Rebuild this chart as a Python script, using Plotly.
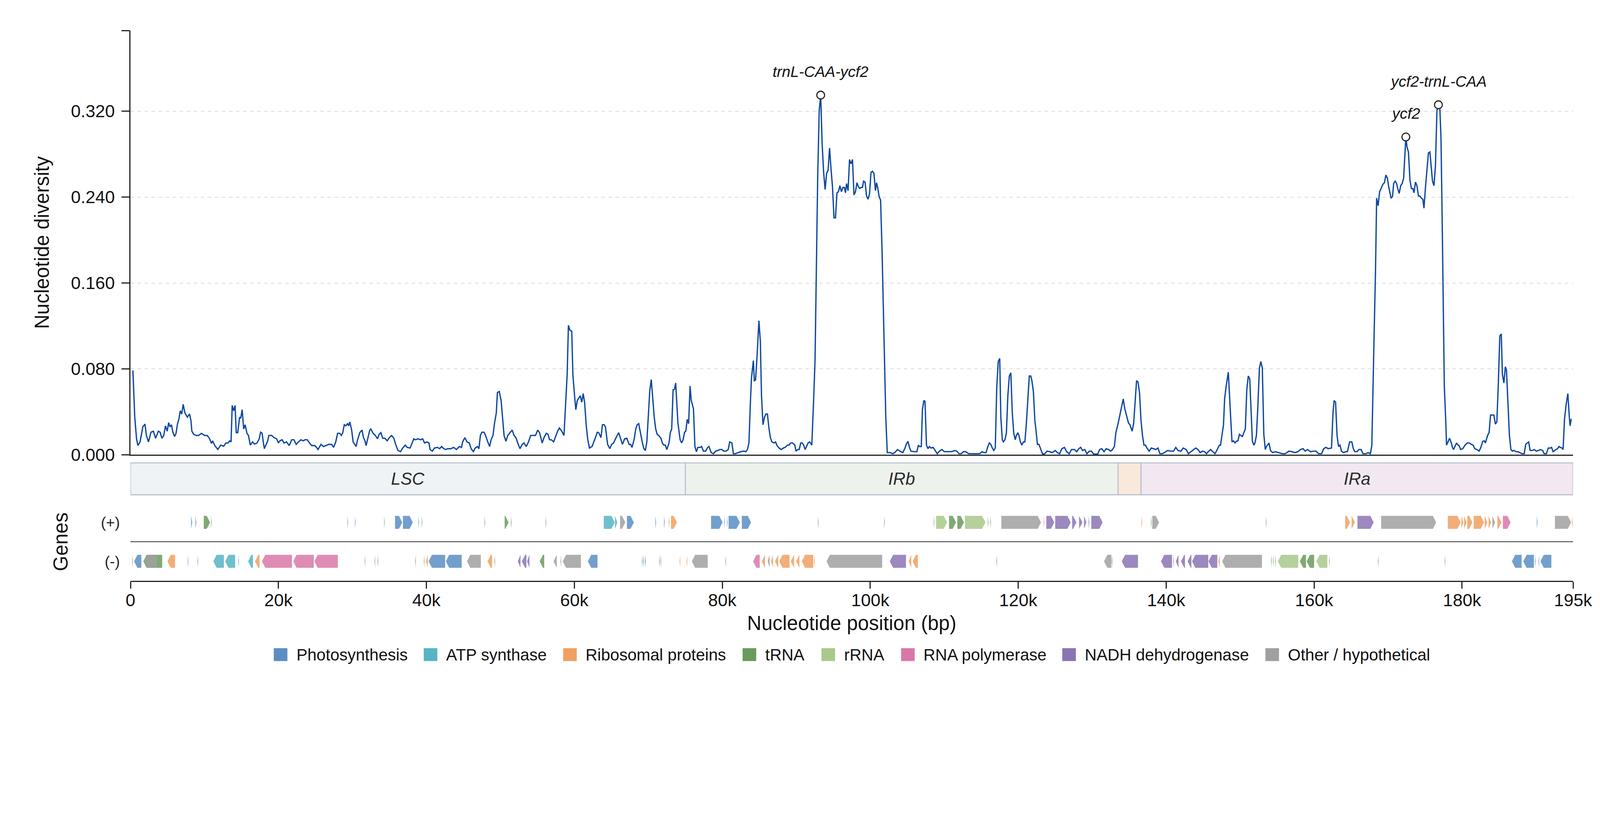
import plotly.graph_objects as go
from plotly.subplots import make_subplots

# sliding-window nucleotide diversity: window midpoint (kb) and Pi
POS_KB = [
    0.33, 0.58, 0.82, 1.0, 1.3, 1.67, 1.96, 2.15, 2.44, 2.77, 3.1, 3.4, 3.77, 4.0, 4.25, 4.5,
    4.73, 4.97, 5.16, 5.35, 5.54, 5.73, 5.97, 6.16, 6.35, 6.54, 6.73, 6.93, 7.12, 7.36, 7.69, 7.98,
    8.17, 8.3, 8.55, 8.9, 9.2, 9.6, 10.0, 10.37, 10.66, 10.95, 11.1, 11.4, 11.8, 12.2, 12.6, 12.9,
    13.2, 13.4, 13.6, 13.75, 13.95, 14.14, 14.3, 14.5, 14.75, 14.9, 15.1, 15.3, 15.5, 15.75, 15.95, 16.2,
    16.5, 16.75, 17.1, 17.4, 17.6, 17.8, 17.95, 18.1, 18.3, 18.55, 18.7, 19.1, 19.4, 19.75, 20.0, 20.2,
    20.5, 20.75, 21.1, 21.45, 21.8, 22.1, 22.4, 22.7, 23.05, 23.35, 23.6, 23.9, 24.2, 24.5, 24.9, 25.15,
    25.35, 25.75, 26.1, 26.4, 26.8, 27.2, 27.45, 27.75, 28.0, 28.3, 28.5, 28.7, 28.9, 29.1, 29.35, 29.5,
    29.65, 29.9, 30.1, 30.5, 30.7, 31.0, 31.3, 31.5, 31.7, 31.85, 32.2, 32.35, 32.5, 32.8, 33.1, 33.4,
    33.6, 33.85, 34.1, 34.4, 34.7, 35.0, 35.3, 35.6, 35.85, 36.15, 36.5, 36.8, 37.15, 37.4, 37.8, 38.05,
    38.3, 38.5, 38.9, 39.2, 39.5, 39.75, 40.05, 40.35, 40.5, 40.8, 41.1, 41.5, 41.8, 42.05, 42.35, 42.6,
    42.9, 43.3, 43.7, 44.05, 44.45, 44.75, 44.9, 45.2, 45.5, 45.8, 46.05, 46.35, 46.6, 46.9, 47.1, 47.3,
    47.5, 47.8, 48.0, 48.3, 48.55, 48.75, 49.0, 49.2, 49.45, 49.6, 49.85, 50.1, 50.3, 50.5, 50.75, 51.0,
    51.3, 51.6, 51.85, 52.1, 52.35, 52.65, 52.95, 53.2, 53.5, 53.8, 54.1, 54.4, 54.75, 55.05, 55.3, 55.65,
    55.9, 56.2, 56.45, 56.65, 56.9, 57.2, 57.5, 57.74, 57.98, 58.3, 58.6, 58.84, 59.03, 59.2, 59.4, 59.65,
    59.8, 60.03, 60.2, 60.4, 60.8, 61.0, 61.2, 61.4, 61.6, 61.8, 62.04, 62.4, 62.7, 62.85, 63.1, 63.3,
    63.6, 63.8, 64.04, 64.2, 64.5, 64.8, 65.04, 65.3, 65.6, 66.0, 66.3, 66.5, 66.8, 67.1, 67.4, 67.6,
    67.8, 68.1, 68.3, 68.5, 68.7, 68.96, 69.2, 69.4, 69.6, 69.8, 70.0, 70.2, 70.4, 70.6, 70.8, 71.0,
    71.2, 71.4, 71.7, 71.9, 72.1, 72.3, 72.5, 72.8, 72.97, 73.16, 73.35, 73.54, 73.7, 74.0, 74.3, 74.5,
    74.7, 74.9, 75.07, 75.26, 75.45, 75.64, 75.8, 76.1, 76.3, 76.5, 76.7, 77.0, 77.2, 77.45, 77.74, 78.03,
    78.2, 78.5, 78.8, 79.1, 79.4, 79.65, 79.94, 80.2, 80.5, 80.8, 81.0, 81.3, 81.5, 81.75, 82.1, 82.5,
    82.9, 83.2, 83.4, 83.6, 83.8, 83.95, 84.2, 84.33, 84.5, 84.7, 84.95, 85.14, 85.3, 85.5, 85.7, 85.9,
    86.1, 86.3, 86.5, 86.7, 87.0, 87.2, 87.4, 87.67, 87.96, 88.25, 88.5, 88.8, 89.0, 89.25, 89.5, 89.8,
    89.96, 90.2, 90.4, 90.6, 90.8, 91.0, 91.2, 91.4, 91.6, 91.8, 92.1, 92.35, 92.54, 92.7, 92.9, 93.1,
    93.3, 93.5, 93.7, 93.9, 94.1, 94.3, 94.5, 94.7, 94.9, 95.1, 95.3, 95.5, 95.7, 95.9, 96.1, 96.3,
    96.5, 96.65, 96.8, 97.0, 97.2, 97.4, 97.6, 97.8, 98.0, 98.2, 98.4, 98.6, 98.75, 98.95, 99.1, 99.3,
    99.5, 99.7, 99.9, 100.1, 100.3, 100.5, 100.7, 100.85, 101.0, 101.2, 101.4, 101.6, 101.8, 101.95, 102.1, 102.3,
    102.7, 103.05, 103.3, 103.7, 104.0, 104.4, 104.7, 104.86, 105.1, 105.3, 105.5, 105.9, 106.3, 106.5, 106.7, 106.9,
    107.05, 107.25, 107.4, 107.6, 107.8, 108.0, 108.2, 108.5, 108.8, 109.06, 109.35, 109.7, 110.0, 110.5, 110.9, 111.2,
    111.45, 111.7, 112.0, 112.3, 112.6, 112.9, 113.3, 113.8, 114.4, 114.8, 115.1, 115.4, 115.65, 115.9, 116.1, 116.3,
    116.5, 116.7, 116.9, 117.1, 117.3, 117.5, 117.65, 117.85, 118.0, 118.2, 118.4, 118.6, 118.8, 119.0, 119.2, 119.4,
    119.6, 119.75, 119.95, 120.1, 120.3, 120.5, 120.7, 120.9, 121.1, 121.3, 121.5, 121.7, 121.85, 122.05, 122.25, 122.4,
    122.6, 122.8, 123.0, 123.3, 123.6, 123.9, 124.25, 124.6, 125.0, 125.3, 125.6, 125.9, 126.25, 126.55, 126.9, 127.2,
    127.6, 127.9, 128.2, 128.45, 128.7, 129.0, 129.3, 129.6, 129.9, 130.2, 130.75, 131.0, 131.3, 131.6, 131.9, 132.2,
    132.5, 132.75, 133.0, 133.2, 133.5, 133.7, 133.9, 134.2, 134.4, 134.65, 134.9, 135.1, 135.4, 135.6, 135.85, 136.0,
    136.2, 136.4, 136.6, 136.8, 137.0, 137.2, 137.4, 137.7, 138.0, 138.3, 138.6, 138.9, 139.15, 139.5, 139.9, 140.2,
    140.6, 141.0, 141.3, 141.6, 142.0, 142.3, 142.7, 143.0, 143.35, 143.7, 144.0, 144.3, 144.6, 144.9, 145.2, 145.45,
    145.75, 146.0, 146.3, 146.6, 146.9, 147.2, 147.35, 147.55, 147.75, 147.9, 148.1, 148.4, 148.55, 148.75, 148.9, 149.1,
    149.3, 149.5, 149.7, 149.9, 150.1, 150.3, 150.5, 150.7, 150.9, 151.1, 151.3, 151.5, 151.65, 151.85, 152.0, 152.2,
    152.4, 152.6, 152.8, 153.0, 153.2, 153.4, 153.55, 153.9, 154.1, 154.4, 154.8, 155.2, 155.7, 156.1, 156.6, 157.0,
    157.4, 157.8, 158.15, 158.5, 158.8, 159.1, 159.5, 159.9, 160.25, 160.6, 161.0, 161.3, 161.6, 161.9, 162.2, 162.35,
    162.55, 162.7, 162.9, 163.1, 163.3, 163.5, 163.7, 163.95, 164.25, 164.5, 164.8, 165.1, 165.3, 165.5, 165.8, 166.05,
    166.35, 166.6, 167.0, 167.3, 167.6, 167.8, 168.1, 168.3, 168.45, 168.65, 168.85, 169.1, 169.3, 169.5, 169.7, 169.9,
    170.1, 170.4, 170.6, 170.75, 170.95, 171.15, 171.3, 171.5, 171.7, 171.9, 172.1, 172.4, 172.55, 172.75, 172.95, 173.15,
    173.35, 173.5, 173.7, 173.9, 174.1, 174.3, 174.5, 174.7, 174.85, 175.05, 175.25, 175.45, 175.65, 175.8, 176.0, 176.2,
    176.4, 176.6, 176.8, 177.0, 177.15, 177.3, 177.45, 177.6, 177.8, 177.9, 178.1, 178.3, 178.5, 178.7, 178.85, 179.05,
    179.25, 179.45, 179.6, 179.8, 180.1, 180.4, 180.7, 181.0, 181.25, 181.5, 181.7, 182.0, 182.3, 182.5, 182.8, 183.0,
    183.15, 183.45, 183.65, 183.85, 184.0, 184.3, 184.5, 184.7, 184.9, 185.1, 185.3, 185.45, 185.65, 185.85, 186.0, 186.2,
    186.4, 186.6, 186.8, 187.0, 187.3, 187.55, 187.85, 188.1, 188.4, 188.6, 188.8, 189.0, 189.2, 189.5, 189.75, 190.05,
    190.3, 190.6, 190.9, 191.1, 191.4, 191.65, 191.95, 192.1, 192.3, 192.5, 192.7, 192.9, 193.1, 193.3, 193.5, 193.65,
    193.85, 194.05, 194.3, 194.5, 194.6, 194.75,
]
PI = [
    .0786, .035, .015, .0086, .012, .026, .0286, .018, .012, .021, .022, .0154, .022, .021, .0154, .018,
    .027, .022, .030, .026, .028, .021, .017, .020, .0286, .033, .041, .038, .047, .039, .035, .038,
    .032, .022, .019, .018, .018, .020, .018, .018, .0154, .0106, .013, .0086, .005, .009, .008, .011,
    .011, .013, .012, .046, .041, .046, .0206, .0206, .035, .034, .042, .024, .028, .020, .018, .009,
    .012, .010, .011, .0149, .021, .020, .012, .0057, .009, .013, .018, .018, .016, .015, .011, .013,
    .014, .011, .012, .0086, .014, .014, .0097, .012, .014, .013, .014, .014, .011, .0086, .0086, .0069,
    .0049, .0097, .0077, .0086, .0097, .0097, .0069, .012, .020, .020, .018, .0206, .028, .027, .029, .027,
    .0306, .023, .012, .0077, .014, .0206, .023, .016, .013, .0086, .018, .023, .024, .020, .018, .0149,
    .019, .0206, .0154, .0154, .013, .016, .018, .0154, .0097, .004, .0029, .0063, .009, .0069, .0063, .011,
    .0149, .014, .0149, .014, .0149, .011, .012, .011, .0049, .0034, .0063, .0069, .0057, .0077, .0057, .0049,
    .0057, .0057, .0069, .0049, .0077, .0069, .012, .016, .012, .011, .0057, .0029, .0063, .0077, .0057, .018,
    .021, .021, .018, .012, .0077, .014, .018, .029, .039, .058, .059, .0506, .0326, .018, .0126, .018,
    .0206, .023, .018, .016, .011, .0057, .0097, .011, .0077, .012, .018, .018, .018, .023, .0206, .011,
    .016, .020, .019, .014, .014, .012, .018, .022, .025, .022, .018, .049, .075, .1206, .116, .115,
    .075, .055, .042, .0506, .055, .049, .057, .048, .028, .0149, .0063, .0077, .013, .016, .021, .0206,
    .016, .028, .028, .026, .0097, .0057, .0097, .011, .0154, .0206, .014, .0097, .0149, .0154, .0097, .0097,
    .0069, .0149, .024, .028, .029, .019, .011, .0057, .004, .012, .035, .060, .070, .052, .035, .024,
    .019, .018, .0154, .011, .009, .009, .0049, .011, .0206, .024, .0606, .061, .0669, .0297, .014, .011,
    .014, .021, .022, .033, .029, .064, .0506, .043, .0077, .0029, .0069, .0069, .0077, .0034, .0034, .0069,
    .0077, .002, .001, .0034, .004, .0049, .0049, .0034, .0034, .0049, .012, .011, .001, .001, .002, .0029,
    .0034, .0029, .0049, .011, .049, .072, .0877, .069, .0697, .092, .1249, .106, .055, .028, .035, .038,
    .038, .025, .016, .012, .011, .012, .0086, .0063, .0049, .0063, .0069, .009, .009, .011, .011, .009,
    .0034, .0049, .0049, .011, .011, .009, .0049, .0077, .011, .012, .009, .052, .089, .166, .26, .3206,
    .335, .289, .263, .247, .262, .265, .2857, .266, .249, .2206, .2206, .244, .245, .2506, .245, .249,
    .249, .244, .2526, .246, .275, .271, .275, .242, .245, .2534, .2497, .248, .249, .249, .2549, .254,
    .241, .238, .243, .263, .264, .262, .246, .2534, .249, .2406, .237, .189, .1234, .0806, .035, .002,
    .002, .001, .002, .0049, .0034, .002, .0063, .0097, .0126, .0069, .0034, .0029, .0029, .0086, .0077, .0077,
    .042, .0506, .0497, .009, .0057, .0077, .0063, .0069, .004, .001, .0034, .0049, .0029, .0029, .0029, .0034,
    .004, .0034, .001, .001, .0029, .0029, .001, .001, .001, .001, .0029, .002, .002, .0077, .011, .0097,
    .0063, .004, .0063, .063, .0869, .0897, .035, .014, .012, .014, .020, .055, .0734, .0763, .039, .020,
    .014, .018, .0206, .018, .012, .009, .012, .012, .029, .0506, .0734, .0734, .069, .059, .032, .023,
    .0097, .0097, .0057, .0006, .001, .0034, .0029, .002, .004, .002, .001, .0057, .0069, .0029, .001, .0049,
    .0049, .0029, .0057, .0069, .004, .0049, .001, .0034, .0034, .0006, .0006, .0049, .0057, .0029, .0057, .0049,
    .0034, .0049, .0077, .0206, .029, .036, .043, .052, .043, .036, .0297, .028, .022, .029, .052, .069,
    .0677, .0577, .032, .018, .009, .009, .0063, .0034, .0063, .0057, .0049, .0063, .001, .001, .0029, .004,
    .0034, .0034, .0069, .004, .0034, .0063, .0049, .001, .0029, .0049, .0063, .0049, .002, .0034, .0029, .001,
    .0034, .0049, .0029, .001, .0049, .009, .009, .018, .028, .052, .0634, .077, .055, .0306, .012, .013,
    .011, .0126, .013, .019, .018, .017, .0206, .024, .0606, .0734, .0706, .0406, .013, .009, .011, .018,
    .046, .0806, .0869, .0806, .019, .0049, .0077, .011, .004, .002, .0029, .002, .001, .001, .0034, .0029,
    .002, .0029, .0049, .0057, .0034, .0049, .0029, .0034, .0034, .001, .001, .0057, .0069, .0057, .0063, .0063,
    .039, .0506, .049, .018, .0077, .009, .0034, .002, .0029, .0029, .012, .012, .0057, .0029, .0029, .0049,
    .0049, .001, .001, .002, .001, .0086, .109, .172, .239, .232, .2449, .249, .252, .2534, .2606, .2577,
    .249, .239, .2406, .2526, .2549, .2526, .248, .2434, .2506, .2526, .2577, .296, .2869, .282, .256, .248,
    .248, .244, .254, .2506, .241, .241, .239, .238, .2297, .249, .2669, .2811, .282, .269, .2549, .2506,
    .269, .3206, .326, .322, .2949, .2234, .1377, .0634, .0306, .009, .012, .0154, .012, .0069, .0049, .0077,
    .011, .009, .0086, .0049, .0057, .009, .011, .011, .0097, .009, .0057, .0049, .0034, .0063, .0126, .013,
    .011, .018, .0206, .037, .037, .037, .0286, .0306, .0663, .1106, .1126, .075, .0669, .082, .079, .049,
    .018, .0049, .0034, .004, .0029, .0029, .002, .001, .001, .0097, .011, .012, .004, .004, .0049, .0034,
    .004, .0049, .004, .001, .001, .0063, .0063, .0069, .0029, .004, .0049, .0057, .0077, .0069, .0063, .0049,
    .0334, .046, .057, .035, .027, .0334,
]

# highlighted peaks (window position, kb) and their labels
PEAK_KB = [93.3, 172.4, 176.8]
PEAK_LABELS = ["trnL-CAA-ycf2", "ycf2", "ycf2-trnL-CAA"]

# genome regions (kb)
REGION_NAMES = ["LSC", "IRb", "SSC", "IRa"]
REGION_START_KB = [0.0, 75.0, 133.5, 136.6]
REGION_END_KB = [75.0, 133.5, 136.6, 195.0]
REGION_LABELED = [True, True, False, True]

CATEGORIES = ["Photosynthesis", "ATP synthase", "Ribosomal proteins", "tRNA", "rRNA",
              "RNA polymerase", "NADH dehydrogenase", "Other / hypothetical"]
CAT_CODES = ["ps", "atp", "rp", "trna", "rrna", "rpo", "ndh", "oth"]

# genes: (start kb, end kb, category code)
GENES_PLUS = [
    (8.2, 8.35, "ps"), (8.78, 8.9, "ps"), (9.91, 10.76, "trna"), (10.9, 10.98, "trna"),
    (29.33, 29.41, "trna"), (30.35, 30.43, "ps"), (34.29, 34.37, "trna"), (35.76, 36.74, "ps"),
    (36.83, 38.17, "ps"), (38.93, 39.01, "ps"), (39.38, 39.46, "trna"), (47.86, 47.94, "trna"),
    (50.58, 51.11, "trna"), (51.43, 51.51, "trna"), (56.12, 56.2, "trna"), (63.98, 65.46, "atp"),
    (65.5, 65.8, "atp"), (66.18, 66.89, "oth"), (67.11, 68.05, "ps"), (70.95, 71.05, "ps"),
    (72.12, 72.22, "ps"), (72.75, 72.85, "rp"), (73.07, 73.87, "rp"), (78.48, 80.04, "ps"),
    (80.27, 80.35, "ps"), (80.63, 80.71, "ps"), (80.85, 82.37, "ps"), (82.64, 83.89, "ps"),
    (92.93, 93.01, "trna"), (101.88, 101.96, "trna"), (108.59, 108.67, "trna"), (108.9, 110.38, "rrna"),
    (110.65, 111.59, "trna"), (111.77, 112.66, "trna"), (112.8, 115.57, "rrna"), (115.89, 115.97, "trna"),
    (116.24, 116.32, "trna"), (117.72, 123.08, "oth"), (123.44, 123.54, "rp"), (123.8, 124.87, "ndh"),
    (125.0, 127.1, "ndh"), (127.29, 127.87, "ndh"), (128.23, 128.68, "ndh"), (128.9, 129.21, "ndh"),
    (129.52, 129.62, "ps"), (129.88, 131.41, "ndh"), (136.67, 136.77, "rp"), (137.95, 138.03, "trna"),
    (138.12, 139.04, "oth"), (153.48, 153.56, "trna"), (164.2, 164.86, "rp"), (165.07, 165.51, "rp"),
    (165.86, 168.05, "ndh"), (169.06, 176.5, "oth"), (178.07, 179.82, "rp"), (179.91, 180.17, "rp"),
    (180.26, 180.61, "rp"), (180.7, 181.4, "rp"), (181.57, 182.97, "rp"), (183.06, 183.41, "rp"),
    (183.58, 183.93, "rp"), (184.1, 184.46, "oth"), (184.77, 185.33, "rp"), (185.51, 186.56, "rpo"),
    (190.1, 190.2, "ps"), (192.55, 194.74, "oth"), (194.85, 194.95, "rp"),
]
GENES_MINUS = [
    (0.23, 0.31, "trna"), (0.49, 1.47, "ps"), (1.74, 4.29, "trna"), (1.92, 3.57, "oth"),
    (5.0, 6.03, "rp"), (7.73, 7.81, "trna"), (9.06, 9.14, "trna"), (11.2, 12.63, "atp"),
    (12.81, 14.15, "atp"), (14.56, 14.66, "atp"), (15.9, 16.56, "atp"), (16.83, 17.45, "rp"),
    (17.77, 21.83, "rpo"), (22.0, 24.78, "rpo"), (24.86, 28.03, "rpo"), (31.66, 31.74, "ps"),
    (32.99, 33.07, "trna"), (33.4, 33.48, "trna"), (38.48, 38.56, "trna"), (39.65, 39.73, "trna"),
    (39.95, 40.2, "rp"), (40.3, 42.54, "ps"), (42.63, 44.77, "ps"), (45.49, 47.36, "oth"),
    (48.26, 48.88, "rp"), (49.2, 49.28, "trna"), (52.36, 52.72, "ndh"), (52.9, 53.52, "ndh"),
    (53.61, 53.93, "ndh"), (55.31, 55.93, "trna"), (57.18, 57.63, "oth"), (58.13, 58.21, "ps"),
    (58.43, 60.89, "oth"), (61.83, 63.13, "ps"), (69.12, 69.2, "ps"), (69.3, 69.4, "ps"),
    (69.55, 69.65, "ps"), (71.46, 71.54, "trna"), (71.64, 71.72, "trna"), (74.22, 74.32, "rp"),
    (75.16, 75.26, "rp"), (75.88, 78.03, "oth"), (80.41, 80.49, "ps"), (84.16, 85.06, "rpo"),
    (85.32, 85.77, "rp"), (86.13, 86.4, "oth"), (86.58, 86.85, "rp"), (87.11, 87.56, "rp"),
    (87.7, 89.08, "rp"), (89.26, 89.7, "rp"), (89.98, 90.42, "rp"), (90.74, 92.3, "rp"),
    (92.4, 92.5, "rp"), (94.09, 101.61, "oth"), (102.64, 104.83, "ndh"), (105.19, 105.55, "rp"),
    (105.72, 106.44, "rp"), (117.05, 117.13, "trna"), (131.6, 132.6, "oth"), (132.65, 132.73, "trna"),
    (134.0, 136.19, "ndh"), (139.3, 140.79, "ndh"), (140.96, 141.04, "ps"), (141.31, 141.66, "ndh"),
    (142.0, 142.54, "ndh"), (142.89, 143.41, "ndh"), (143.5, 145.69, "ndh"), (145.72, 146.91, "ndh"),
    (147.05, 147.26, "rp"), (147.57, 152.95, "oth"), (154.18, 154.26, "trna"), (154.44, 154.52, "trna"),
    (154.71, 154.79, "trna"), (155.1, 157.85, "rrna"), (158.07, 158.9, "trna"), (158.99, 160.0, "trna"),
    (160.3, 161.79, "rrna"), (162.01, 162.09, "trna"), (168.62, 168.7, "trna"), (177.64, 177.72, "trna"),
    (186.73, 188.05, "ps"), (188.27, 189.71, "ps"), (189.85, 189.93, "ps"), (190.33, 190.41, "ps"),
    (190.59, 192.07, "ps"),
]

X_TICKS_KB = [0, 20, 40, 60, 80, 100, 120, 140, 160, 180, 195]
Y_TICKS = [0.0, 0.08, 0.16, 0.24, 0.32]
GENOME_KB = 195.0
Y_MAX = 0.3952

# styling
W, H = 4080, 1975
ML, MR, MT, MB = 326, 40, 70, 496
FONT = "Liberation Sans, Arial, sans-serif"
INK = "#222222"
TEXT = "#111111"
LINE_COLOR = "#0d47a1"
CAT_COLORS = ["#5b8ec4", "#56b4c4", "#f0a060", "#6a9a5c", "#a9c88a", "#d978a8", "#8a74b4", "#a0a0a0"]
REGION_COLORS = ["#eff3f6", "#edf2ec", "#f9e9da", "#f2e8f2"]
LEGEND_BOX_PX = [695, 1081, 1440, 1902, 2105, 2310, 2725, 3248]

plot_w = W - ML - MR
plot_h = H - MT - MB


def py(px_from_top):
    # figure pixel row -> paper y
    return (H - MB - px_from_top) / plot_h


def arrow(s, e, y, strand, h=0.333, head=0.45):
    hd = min(head, e - s)
    ys = [y - h, y - h, y, y + h, y + h, y - h]
    if strand > 0:
        xs = [s, e - hd, e, e - hd, s, s]
    else:
        xs = [e, s + hd, s, s + hd, e, e]
    return [v * 1000 for v in xs], ys


fig = make_subplots(rows=3, cols=1, shared_xaxes=True, vertical_spacing=0.01)

pos_bp = [p * 1000 for p in POS_KB]
fig.add_trace(go.Scatter(x=pos_bp, y=PI, mode="lines",
                         line=dict(color=LINE_COLOR, width=3.3),
                         showlegend=False, hoverinfo="skip"), row=1, col=1)

# peak markers take their height from the series
peak_y = [PI[POS_KB.index(p)] for p in PEAK_KB]
peak_x = [p * 1000 for p in PEAK_KB]
fig.add_trace(go.Scatter(x=peak_x, y=peak_y, mode="markers",
                         marker=dict(symbol="circle", size=20, color="white",
                                     line=dict(color=INK, width=2.8)),
                         showlegend=False, hoverinfo="skip"), row=1, col=1)
for x, y, lab in zip(peak_x, peak_y, PEAK_LABELS):
    fig.add_annotation(x=x, y=y, xref="x", yref="y", text=f"<i>{lab}</i>", showarrow=False,
                       yshift=60, font=dict(size=39, color=TEXT, family=FONT))

# region bar
for name, s, e, col, lab in zip(REGION_NAMES, REGION_START_KB, REGION_END_KB, REGION_COLORS, REGION_LABELED):
    fig.add_shape(type="rect", xref="x2", yref="y2", x0=s * 1000, x1=e * 1000, y0=0.061, y1=0.939,
                  fillcolor=col, line=dict(color="#b8c2cc", width=2.8), layer="below")
    if lab:
        fig.add_annotation(x=(s + e) / 2 * 1000, y=0.5, xref="x2", yref="y2", text=f"<i>{name}</i>",
                           showarrow=False, font=dict(size=44, color="#2a2a2a", family=FONT))

# gene tracks: one filled trace per category
for code, cat, col in zip(CAT_CODES, CATEGORIES, CAT_COLORS):
    xs, ys = [], []
    for strand, genes in ((1, GENES_PLUS), (-1, GENES_MINUS)):
        for s, e, c in genes:
            if c != code:
                continue
            gx, gy = arrow(s, e, strand, strand)
            xs += gx + [None]
            ys += gy + [None]
    fig.add_trace(go.Scatter(x=xs, y=ys, mode="lines", fill="toself", fillcolor=col,
                             line=dict(width=0, color=col), opacity=0.85, name=cat,
                             showlegend=False, hoverinfo="skip"), row=3, col=1)

# legend drawn in paper space
legend_y = py(1668)
half_box = 16.5 / plot_h
for cat, col, px in zip(CATEGORIES, CAT_COLORS, LEGEND_BOX_PX):
    fig.add_shape(type="rect", xref="paper", yref="paper",
                  x0=(px - ML) / plot_w, x1=(px + 35 - ML) / plot_w,
                  y0=legend_y - half_box, y1=legend_y + half_box, fillcolor=col, line=dict(width=0))
    fig.add_annotation(x=(px + 56 - ML) / plot_w, y=legend_y, xref="paper", yref="paper",
                       text=cat, showarrow=False, xanchor="left", yanchor="middle",
                       font=dict(size=42, color=TEXT, family=FONT))

xrange = [0, GENOME_KB * 1000]
axis_font = dict(size=45, color=TEXT, family=FONT)
title_font = dict(size=51, color=TEXT, family=FONT)

fig.update_layout(
    width=W, height=H,
    margin=dict(l=ML, r=MR, t=MT, b=MB),
    paper_bgcolor="white", plot_bgcolor="white",
    font=dict(family=FONT, color=TEXT),
    showlegend=False,
    xaxis=dict(range=xrange, showline=True, linecolor=INK, linewidth=2.8, ticks="",
               showticklabels=False, showgrid=False, zeroline=False),
    yaxis=dict(domain=[py(1156.4), 1.0], range=[0, Y_MAX], tickvals=Y_TICKS, tickformat=".3f",
               showline=True, linecolor=INK, linewidth=2.8, ticks="outside", ticklen=20,
               tickwidth=2.8, tickcolor=INK, tickfont=axis_font, ticklabelstandoff=8,
               showgrid=True, gridcolor="#dcdcdc", gridwidth=2, griddash="dash", zeroline=False,
               minor=dict(tickmode="array", tickvals=[0.395], ticks="outside", ticklen=20,
                          tickwidth=2.8, tickcolor=INK, showgrid=False),
               title=dict(text="Nucleotide diversity", font=title_font, standoff=40)),
    xaxis2=dict(range=xrange, visible=False),
    yaxis2=dict(domain=[py(1264.4), py(1171.5)], range=[0, 1], visible=False),
    xaxis3=dict(range=xrange, showline=True, linecolor=INK, linewidth=2.8, ticks="outside",
                ticklen=17, tickwidth=2.8, tickcolor=INK, ticklabelstandoff=-9,
                ticklabeloverflow="allow",
                tickvals=[t * 1000 for t in X_TICKS_KB],
                ticktext=["0" if t == 0 else f"{t}k" for t in X_TICKS_KB],
                tickfont=axis_font, showgrid=False, zeroline=False,
                title=dict(text="Nucleotide position (bp)", font=title_font, standoff=17)),
    yaxis3=dict(domain=[0, py(1279.5)], range=[-2, 2], tickvals=[1, -1], ticktext=["(+)", "(-)"],
                ticks="", tickfont=dict(size=39, color=INK, family=FONT), ticklabelstandoff=26,
                showline=False, showgrid=False, zeroline=True, zerolinecolor="#333333",
                zerolinewidth=2.4, fixedrange=True,
                title=dict(text="Genes", font=title_font, standoff=68)),
)

fig.write_html("out.html")
